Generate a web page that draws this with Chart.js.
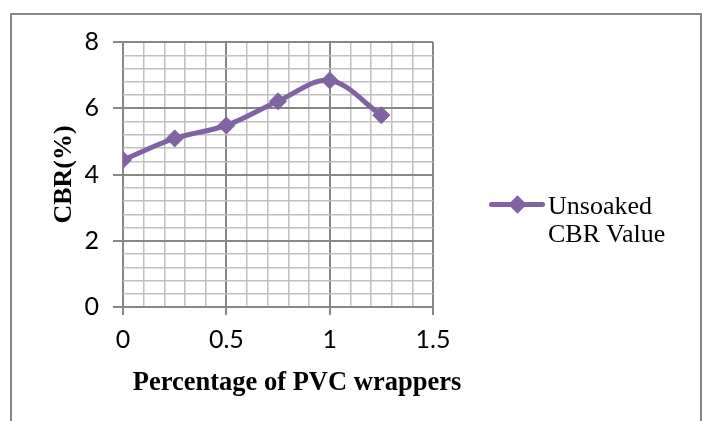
<!DOCTYPE html>
<html>
<head>
<meta charset="utf-8">
<script src="https://cdn.jsdelivr.net/npm/chart.js@4.4.0/dist/chart.umd.min.js"></script>
<style>
  html, body { margin: 0; padding: 0; background: #fff; }
  #wrap { position: relative; width: 702px; height: 421px; overflow: hidden; background: #fff; }
  #frame { position: absolute; left: 10px; top: 13px; width: 688px; height: 440px; border: 2px solid #878787; }
  #chart { position: absolute; left: 0; top: 0; }
  #legend { position: absolute; left: 489px; top: 192px; }
  .leg-line { position: absolute; left: 0; top: 9.5px; width: 56px; height: 5px; border-radius: 2.5px; }
  .leg-mark { position: absolute; left: 21.5px; top: 5.5px; width: 13px; height: 13px; transform: rotate(45deg); }
  .leg-text { position: absolute; left: 59px; top: 0; width: 150px; font: 26px "Liberation Serif", "Times New Roman", serif; line-height: 28px; color: #000; }
</style>
</head>
<body>
<div id="wrap">
  <div id="frame"></div>
  <canvas id="chart" width="702" height="421"></canvas>
  <div id="legend"></div>
</div>
<script>
const pvcPercent = [0, 0.25, 0.5, 0.75, 1, 1.25];
const cbrValues = [4.44, 5.09, 5.48, 6.21, 6.84, 5.79];
const seriesLabel = 'Unsoaked CBR Value';
const xTitle = 'Percentage of PVC wrappers';
const yTitle = 'CBR(%)';

const purple = '#7F63A2';
const majorGrid = '#878787';
const minorGrid = '#bfbfbf';

function isMajor(v, step) {
    return Math.abs(v / step - Math.round(v / step)) < 1e-6;
}

// x title sits a bit right of the plot centre, as in the original
const xTitlePlugin = {
    id: 'xTitle',
    afterDraw(chart) {
        const { ctx, chartArea } = chart;
        ctx.save();
        ctx.font = 'bold 26.5px "Liberation Serif"';
        ctx.fillStyle = '#000';
        ctx.textAlign = 'center';
        ctx.textBaseline = 'alphabetic';
        ctx.fillText(xTitle, chartArea.left + 174, chartArea.bottom + 83);
        ctx.restore();
    }
};

const ctx = document.getElementById('chart').getContext('2d');
new Chart(ctx, {
    type: 'line',
    data: {
        datasets: [{
            label: seriesLabel,
            data: pvcPercent.map((x, i) => ({ x: x, y: cbrValues[i] })),
            borderColor: purple,
            backgroundColor: purple,
            borderWidth: 5,
            tension: 0.35,
            pointStyle: 'rectRot',
            pointRadius: 8.5,
            pointBorderWidth: 1,
            pointBackgroundColor: purple,
            pointBorderColor: purple
        }]
    },
    options: {
        responsive: false,
        animation: false,
        layout: { padding: { left: 0, top: 42, right: 269, bottom: 0 } },
        plugins: {
            legend: { display: false },
            tooltip: { enabled: false }
        },
        scales: {
            x: {
                type: 'linear',
                min: 0,
                max: 1.5,
                afterFit: (scale) => { scale.height = 114; },
                border: { display: false },
                grid: {
                    color: (c) => isMajor(c.tick.value, 0.5) ? majorGrid : minorGrid,
                    lineWidth: (c) => isMajor(c.tick.value, 0.5) ? 2 : 1.5,
                    tickColor: (c) => isMajor(c.tick.value, 0.5) ? majorGrid : 'rgba(0,0,0,0)',
                    tickLength: 8
                },
                ticks: {
                    stepSize: 0.1,
                    autoSkip: false,
                    maxRotation: 0,
                    padding: 10,
                    color: '#000',
                    font: { family: 'Lato', size: 25 },
                    callback: (v) => isMajor(v, 0.5) ? String(Math.round(v * 10) / 10) : ''
                }
            },
            y: {
                min: 0,
                max: 8,
                afterFit: (scale) => { scale.width = 123; },
                border: { display: false },
                grid: {
                    color: (c) => isMajor(c.tick.value, 2) ? majorGrid : minorGrid,
                    lineWidth: (c) => isMajor(c.tick.value, 2) ? 2 : 1.5,
                    tickColor: (c) => isMajor(c.tick.value, 2) ? majorGrid : 'rgba(0,0,0,0)',
                    tickLength: 10
                },
                ticks: {
                    stepSize: 0.4,
                    autoSkip: false,
                    padding: 14,
                    color: '#000',
                    font: { family: 'Lato', size: 25 },
                    callback: (v) => isMajor(v, 2) ? String(Math.round(v)) : ''
                },
                title: {
                    display: true,
                    text: yTitle,
                    color: '#000',
                    font: { family: 'Liberation Serif', size: 26, weight: 'bold' },
                    padding: { top: 49, bottom: 0 }
                }
            }
        }
    },
    plugins: [xTitlePlugin]
});

// Legend drawn as HTML: line + diamond marker + two-line label
const legend = document.getElementById('legend');
legend.innerHTML = `
    <div class="leg-line" style="background:${purple}"></div>
    <div class="leg-mark" style="background:${purple}"></div>
    <div class="leg-text">${seriesLabel.replace('CBR', '<br>CBR')}</div>
`;
</script>
</body>
</html>
